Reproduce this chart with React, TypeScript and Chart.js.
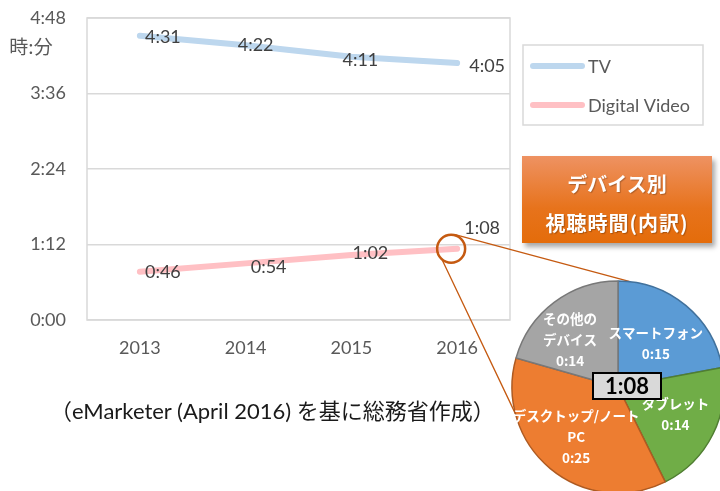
import React, { useEffect, useRef } from 'react';
import { Chart, registerables } from 'chart.js';
Chart.register(...registerables);

// ---- data ----
const years = ['2013', '2014', '2015', '2016'];
const seriesNames = ['TV', 'Digital Video'];
const tvMinutes = [271, 262, 251, 245];
const digitalVideoMinutes = [46, 54, 62, 68];
const yTickMinutes = [0, 72, 144, 216, 288];
const yAxisUnit = '時:分';

const deviceNames = ['スマートフォン', 'タブレット', 'デスクトップ/ノートPC', 'その他のデバイス'];
const deviceLabelLines = [['スマートフォン'], ['タブレット'], ['デスクトップ/ノート', 'PC'], ['その他の', 'デバイス']];
const deviceMinutes = [15, 14, 25, 14];

const boxTitleLines = ['デバイス別', '視聴時間(内訳)'];
const sourceNote = '（eMarketer (April 2016) を基に総務省作成）';

const fmt = (m: number) => `${Math.floor(m / 60)}:${String(Math.round(m) % 60).padStart(2, '0')}`;

// ---- styles ----
const LATIN = 'Lato, "Noto Sans CJK JP", sans-serif';
const CJK = '"Noto Sans CJK JP", sans-serif';
const seriesColors = ['#bdd7ee', '#ffc0c4'];
const labelOffsets = [
  [[23, 1], [10, 0], [9, 3], [30, 3]],
  [[23, 0], [23, 4], [19, -2], [25, -21]],
];
const pieColors = ['#5b9bd5', '#70ad47', '#ed7d31', '#a5a5a5'];
const pieBorders = ['#41719c', '#507e32', '#ae5a21', '#787878'];
const pieLabelOffsets = [[4, -3], [10, 4], [-8, 9], [-16, -5]];
const PIE_LEFT = 498, PIE_TOP = 267, PIE_SIZE = 240, PIE_R = 106;
const ACCENT = '#c55a11';

const framePlugin = {
  id: 'framePlugin',
  beforeDatasetsDraw(chart: any) {
    const { ctx, chartArea: a } = chart;
    ctx.save();
    ctx.strokeStyle = '#d9d9d9';
    ctx.lineWidth = 1.5;
    ctx.strokeRect(a.left, a.top, a.right - a.left, a.bottom - a.top);
    ctx.restore();
  },
  afterDatasetsDraw(chart: any) {
    const { ctx } = chart;
    ctx.save();
    ctx.font = `18px ${LATIN}`;
    ctx.fillStyle = '#404040';
    ctx.textAlign = 'center';
    ctx.textBaseline = 'middle';
    chart.data.datasets.forEach((ds: any, di: number) => {
      const meta = chart.getDatasetMeta(di);
      meta.data.forEach((pt: any, i: number) => {
        const [dx, dy] = labelOffsets[di][i];
        ctx.fillText(fmt(ds.data[i]), pt.x + dx, pt.y + dy);
      });
    });
    ctx.restore();
  },
  afterDraw(chart: any) {
    const { ctx } = chart;
    ctx.save();
    // unit label
    ctx.font = `19px ${CJK}`;
    ctx.fillStyle = '#595959';
    ctx.textAlign = 'center';
    ctx.textBaseline = 'middle';
    ctx.fillText(yAxisUnit, 31, 47);

    // legend
    ctx.strokeStyle = '#d9d9d9';
    ctx.lineWidth = 1.5;
    ctx.strokeRect(523, 45, 180, 80);
    chart.data.datasets.forEach((ds: any, i: number) => {
      const y = 66 + i * 39;
      ctx.strokeStyle = ds.borderColor;
      ctx.lineWidth = 6;
      ctx.lineCap = 'round';
      ctx.beginPath();
      ctx.moveTo(533, y);
      ctx.lineTo(582, y);
      ctx.stroke();
      ctx.fillStyle = '#595959';
      ctx.font = `18px ${LATIN}`;
      ctx.textAlign = 'left';
      ctx.fillText(ds.label, 588, y + 1);
    });

    // highlight circle + connectors
    const meta = chart.getDatasetMeta(1);
    const last = meta.data[meta.data.length - 1];
    const cx = last.x - 6, cy = last.y;
    ctx.strokeStyle = ACCENT;
    ctx.lineWidth = 2.5;
    ctx.beginPath();
    ctx.arc(cx, cy, 14, 0, Math.PI * 2);
    ctx.stroke();
    const pcx = PIE_LEFT + PIE_SIZE / 2, pcy = PIE_TOP + PIE_SIZE / 2;
    const a1 = (6.5 * Math.PI) / 180, a2 = (255.3 * Math.PI) / 180;
    ctx.lineWidth = 1.3;
    ctx.beginPath();
    ctx.moveTo(cx + 4, cy - 14);
    ctx.lineTo(pcx + Math.sin(a1) * PIE_R, pcy - Math.cos(a1) * PIE_R);
    ctx.moveTo(cx - 9, cy + 11);
    ctx.lineTo(pcx + Math.sin(a2) * PIE_R, pcy - Math.cos(a2) * PIE_R);
    ctx.stroke();
    ctx.restore();
  },
};

const pieLabelPlugin = {
  id: 'pieLabelPlugin',
  afterDatasetsDraw(chart: any) {
    const { ctx } = chart;
    const meta = chart.getDatasetMeta(0);
    const data = chart.data.datasets[0].data as number[];
    ctx.save();
    ctx.fillStyle = '#ffffff';
    ctx.textAlign = 'center';
    ctx.textBaseline = 'middle';
    ctx.font = `bold 13.5px ${CJK}`;
    meta.data.forEach((arc: any, i: number) => {
      const p = arc.tooltipPosition();
      const lines = [...deviceLabelLines[i], fmt(data[i])];
      const lh = 21;
      const x = p.x + pieLabelOffsets[i][0];
      const y0 = p.y + pieLabelOffsets[i][1] - ((lines.length - 1) * lh) / 2;
      lines.forEach((t, k) => ctx.fillText(t, x, y0 + k * lh));
    });
    // total box
    const first = meta.data[0];
    const total = data.reduce((s, v) => s + v, 0);
    const bx = first.x + 9, by = first.y - 1;
    ctx.fillStyle = '#d9d9d9';
    ctx.fillRect(bx - 34, by - 13, 68, 26);
    ctx.strokeStyle = '#000';
    ctx.lineWidth = 2;
    ctx.strokeRect(bx - 34, by - 13, 68, 26);
    ctx.fillStyle = '#000';
    ctx.font = `bold 22px ${LATIN}`;
    ctx.fillText(fmt(total), bx, by + 1);
    ctx.restore();
  },
};

export default function App() {
  const lineRef = useRef<HTMLCanvasElement>(null);
  const pieRef = useRef<HTMLCanvasElement>(null);

  useEffect(() => {
    const lc = new Chart(lineRef.current!, {
      type: 'line',
      data: {
        labels: years,
        datasets: [
          { label: seriesNames[0], data: tvMinutes, borderColor: seriesColors[0], borderWidth: 6, pointRadius: 0, borderCapStyle: 'round', tension: 0 },
          { label: seriesNames[1], data: digitalVideoMinutes, borderColor: seriesColors[1], borderWidth: 6, pointRadius: 0, borderCapStyle: 'round', tension: 0 },
        ],
      } as any,
      options: {
        responsive: false,
        animation: false,
        layout: { padding: { left: 0, top: 18, right: 210, bottom: 131 } },
        plugins: { legend: { display: false }, tooltip: { enabled: false } },
        scales: {
          x: {
            offset: true,
            grid: { display: false },
            border: { display: false },
            ticks: { font: { family: LATIN, size: 18 }, color: '#595959', padding: 9 },
            afterFit: (s: any) => { s.height = 40; s.paddingLeft = 0; s.paddingRight = 0; },
          },
          y: {
            min: 0,
            max: 288,
            afterBuildTicks: (s: any) => { s.ticks = yTickMinutes.map((v) => ({ value: v })); },
            grid: { color: '#d9d9d9', lineWidth: 1.5, drawTicks: false },
            border: { display: false },
            ticks: { font: { family: LATIN, size: 18 }, color: '#595959', padding: 21, callback: (v: any) => fmt(Number(v)) },
            afterFit: (s: any) => { s.width = 87; s.paddingTop = 0; s.paddingBottom = 0; },
          },
        },
      } as any,
      plugins: [framePlugin],
    });

    const pc = new Chart(pieRef.current!, {
      type: 'pie',
      data: {
        labels: deviceNames,
        datasets: [{ data: deviceMinutes, backgroundColor: pieColors, borderColor: pieBorders, borderWidth: 1.5 }],
      },
      options: {
        responsive: false,
        animation: false,
        radius: PIE_R,
        layout: { padding: 0 },
        plugins: { legend: { display: false }, tooltip: { enabled: false } },
      } as any,
      plugins: [pieLabelPlugin],
    });

    return () => { lc.destroy(); pc.destroy(); };
  }, []);

  return (
    <div style={{ position: 'fixed', left: 0, top: 0, width: 720, height: 491, overflow: 'hidden', background: '#fff' }}>
      <canvas ref={lineRef} width={720} height={491} style={{ position: 'absolute', left: 0, top: 0, width: 720, height: 491 }} />
      <div
        style={{
          position: 'absolute', left: 522, top: 156, width: 190, height: 87,
          background: 'linear-gradient(#ee9262, #e7731c 60%, #e46c0a)',
          boxShadow: '3px 4px 5px rgba(0,0,0,0.35)',
          color: '#fff', fontFamily: CJK, fontWeight: 700, fontSize: 20,
          textAlign: 'center', textShadow: '1px 1px 1px rgba(0,0,0,0.25)',
        }}
      >
        <div style={{ position: 'absolute', left: 0, right: 0, top: 14, lineHeight: '28px' }}>{boxTitleLines[0]}</div>
        <div style={{ position: 'absolute', left: 0, right: 0, top: 53, lineHeight: '28px', letterSpacing: 1 }}>{boxTitleLines[1]}</div>
      </div>
      <div style={{ position: 'absolute', left: 50, top: 397, lineHeight: '28px', fontSize: 22, fontFamily: LATIN, color: '#1a1a1a', whiteSpace: 'nowrap' }}>
        {sourceNote}
      </div>
      <canvas ref={pieRef} width={PIE_SIZE} height={PIE_SIZE} style={{ position: 'absolute', left: PIE_LEFT, top: PIE_TOP, width: PIE_SIZE, height: PIE_SIZE }} />
    </div>
  );
}
